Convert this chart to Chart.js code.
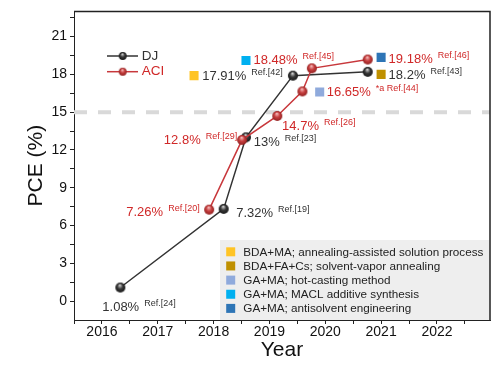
<!DOCTYPE html>
<html>
<head>
<meta charset="utf-8">
<script src="https://cdn.jsdelivr.net/npm/chart.js@4.4.1/dist/chart.umd.min.js"></script>
<style>
  html, body { margin: 0; padding: 0; background: #fff; }
  #wrap { width: 503px; height: 369px; }
</style>
</head>
<body>
<div id="wrap"><canvas id="c"></canvas></div>
<script>
// data
const djYears = [2016.33, 2018.18, 2018.58, 2019.42, 2020.76];
const djPCE = [1.08, 7.32, 13.0, 17.9, 18.2];
const aciYears = [2017.92, 2018.51, 2019.14, 2019.59, 2019.76, 2020.76];
const aciPCE = [7.26, 12.8, 14.7, 16.65, 18.48, 19.18];

const methodNames = [
  'BDA+MA; annealing-assisted solution process',
  'BDA+FA+Cs; solvent-vapor annealing',
  'GA+MA; hot-casting method',
  'GA+MA; MACL additive synthesis',
  'GA+MA; antisolvent engineering'
];
const methodYears = [2017.65, 2021.0, 2019.9, 2018.58, 2021.0];
const methodPCE = [17.9, 18.0, 16.6, 19.1, 19.35];

const refLevel = 15;
const xTickYears = [2016, 2017, 2018, 2019, 2020, 2021, 2022];
const yTickValues = [0, 3, 6, 9, 12, 15, 18, 21];

const noteTexts = ['18.48%', '17.91%', '19.18%', '18.2%', '16.65%', '14.7%', '13%', '12.8%', '7.26%', '7.32%', '1.08%'];
const noteRefs = ['Ref.[45]', 'Ref.[42]', 'Ref.[46]', 'Ref.[43]', '*a Ref.[44]', 'Ref.[26]', 'Ref.[23]', 'Ref.[29]', 'Ref.[20]', 'Ref.[19]', 'Ref.[24]'];
const noteSeries = ['ACI', 'DJ', 'ACI', 'DJ', 'ACI', 'ACI', 'DJ', 'ACI', 'ACI', 'DJ', 'DJ'];

// where the notes sit (year, PCE of the text's left-middle point)
const notePos = [
  [2018.714, 19.11], [2017.796, 17.82], [2021.134, 19.19], [2021.134, 17.90],
  [2020.025, 16.57], [2019.227, 13.83], [2018.719, 12.60], [2017.109, 12.73],
  [2016.436, 7.02], [2018.404, 6.96], [2016.007, -0.52]
];

const FONT = "'Liberation Sans', Arial, sans-serif";
const RED = '#C8383C', DARK = '#333333';
const textColor = { DJ: '#333333', ACI: '#D02828' };
const methodColors = ['#FFC425', '#BF9000', '#8FAADC', '#00B0F0', '#2E75B6'];

Chart.defaults.font.family = FONT;

function ball(r, light, mid, dark){
  const s = Math.ceil(r * 2) + 2;
  const c = document.createElement('canvas'); c.width = c.height = s;
  const g = c.getContext('2d'); const cx = s / 2, cy = s / 2;
  const grad = g.createRadialGradient(cx - r * 0.1, cy - r * 0.5, r * 0.05, cx, cy, r);
  grad.addColorStop(0, light); grad.addColorStop(0.5, mid); grad.addColorStop(1, dark);
  g.fillStyle = grad; g.beginPath(); g.arc(cx, cy, r, 0, Math.PI * 2); g.fill();
  return c;
}
const djBall = ball(5, '#d8d8d8', '#3a3a3a', '#161616');
const aciBall = ball(5, '#f6c0c0', '#c84040', '#922020');
const djBallSmall = ball(3.9, '#d8d8d8', '#3a3a3a', '#161616');
const aciBallSmall = ball(3.9, '#f6c0c0', '#c84040', '#922020');

const pts = (xs, ys) => xs.map((x, i) => ({ x, y: ys[i] }));

const datasets = [
  { label: 'DJ', data: pts(djYears, djPCE), borderColor: DARK, borderWidth: 1.5, pointStyle: djBall, order: 2, _ball: djBallSmall },
  { label: 'ACI', data: pts(aciYears, aciPCE), borderColor: RED, borderWidth: 1.5, pointStyle: aciBall, order: 1, _ball: aciBallSmall },
  { label: 'ref', data: [{ x: 2015.5, y: refLevel }, { x: 2022.95, y: refLevel }], borderColor: '#D9D9D9', borderWidth: 4, borderDash: [13, 11], pointRadius: 0, order: 20 }
];
methodNames.forEach((m, i) => datasets.push({
  label: m, _method: true, data: [{ x: methodYears[i], y: methodPCE[i] }], showLine: false,
  pointStyle: 'rect', pointRadius: 6.4, backgroundColor: methodColors[i], borderWidth: 0, order: 0
}));

const extras = {
  id: 'extras',
  beforeDatasetsDraw(chart){
    const { ctx } = chart;
    // legend box behind the data
    const x0 = 220, y0 = 240, ca = chart.chartArea;
    ctx.save();
    ctx.fillStyle = '#EEEEEE';
    ctx.fillRect(x0, y0, ca.right - x0, ca.bottom - y0);
    ctx.restore();
  },
  afterDatasetsDraw(chart){
    const { ctx, chartArea: ca, scales: { x, y } } = chart;
    ctx.save();
    // frame top and right
    ctx.strokeStyle = '#222'; ctx.lineWidth = 1.5;
    ctx.beginPath(); ctx.moveTo(ca.left, ca.top); ctx.lineTo(ca.right, ca.top); ctx.lineTo(ca.right, ca.bottom); ctx.stroke();

    // series legend top-left
    ctx.textBaseline = 'middle'; ctx.textAlign = 'left';
    chart.data.datasets.filter(d => d._ball).forEach((d, i) => {
      const ly = 56 + i * 15.7;
      ctx.strokeStyle = d.borderColor; ctx.lineWidth = 1.5;
      ctx.beginPath(); ctx.moveTo(107, ly); ctx.lineTo(138, ly); ctx.stroke();
      ctx.drawImage(d._ball, 122.7 - d._ball.width / 2, ly - d._ball.height / 2);
      ctx.fillStyle = textColor[d.label]; ctx.font = '13.5px ' + FONT;
      ctx.fillText(d.label, 141.7, ly);
    });

    // method legend
    chart.data.datasets.filter(d => d._method).forEach((d, i) => {
      const ly = 251.8 + i * 14.15;
      ctx.fillStyle = d.backgroundColor;
      ctx.fillRect(226.2, ly - 4.5, 9, 9);
      ctx.fillStyle = '#222'; ctx.font = '11.7px ' + FONT;
      ctx.fillText(d.label, 243.3, ly + 0.5);
    });

    // value notes
    noteTexts.forEach((t, i) => {
      const px = x.getPixelForValue(notePos[i][0]);
      const py = y.getPixelForValue(notePos[i][1]);
      ctx.fillStyle = textColor[noteSeries[i]];
      ctx.font = '13px ' + FONT;
      ctx.fillText(t, px, py);
      const w = ctx.measureText(t).width;
      ctx.font = '9px ' + FONT;
      ctx.fillText(noteRefs[i], px + w + 5, py - 4);
    });
    ctx.restore();
  }
};

new Chart(document.getElementById('c'), {
  type: 'line',
  data: { datasets },
  options: {
    responsive: true, maintainAspectRatio: false, animation: false, events: [],
    layout: { padding: { top: 8, right: 13, left: 0, bottom: 0 } },
    plugins: { legend: { display: false }, tooltip: { enabled: false } },
    elements: { line: { tension: 0, fill: false } },
    scales: {
      x: {
        type: 'linear', min: 2015.5, max: 2022.95,
        afterBuildTicks: s => {
          const t = [];
          for (let v = 2015.5; v <= 2022.5; v += 0.5) t.push({ value: v });
          s.ticks = t;
        },
        afterFit: s => { s.height = 49; },
        ticks: {
          autoSkip: false, maxRotation: 0, padding: 0, color: '#111', font: { size: 14 },
          callback: v => xTickYears.includes(v) ? String(v) : ''
        },
        grid: { drawOnChartArea: false, drawTicks: true, tickLength: 4, tickColor: '#222', tickWidth: 1 },
        border: { display: true, color: '#222', width: 1 },
        title: { display: true, text: 'Year', color: '#111', font: { size: 21 }, padding: { top: 0, bottom: 6 } }
      },
      y: {
        type: 'linear', min: -1.5, max: 23,
        afterBuildTicks: s => {
          const t = [];
          for (let v = 0; v <= 22.5; v += 1.5) t.push({ value: v });
          s.ticks = t;
        },
        afterFit: s => { s.width = 74; },
        ticks: {
          autoSkip: false, padding: 3, color: '#111', font: { size: 14 },
          callback: v => yTickValues.includes(v) ? String(v) : ''
        },
        grid: { drawOnChartArea: false, drawTicks: true, tickLength: 4, tickColor: '#222', tickWidth: 1 },
        border: { display: true, color: '#222', width: 1 },
        title: { display: true, text: 'PCE (%)', color: '#111', font: { size: 21 }, padding: { top: 24, bottom: 0 } }
      }
    }
  },
  plugins: [extras]
});
</script>
</body>
</html>
